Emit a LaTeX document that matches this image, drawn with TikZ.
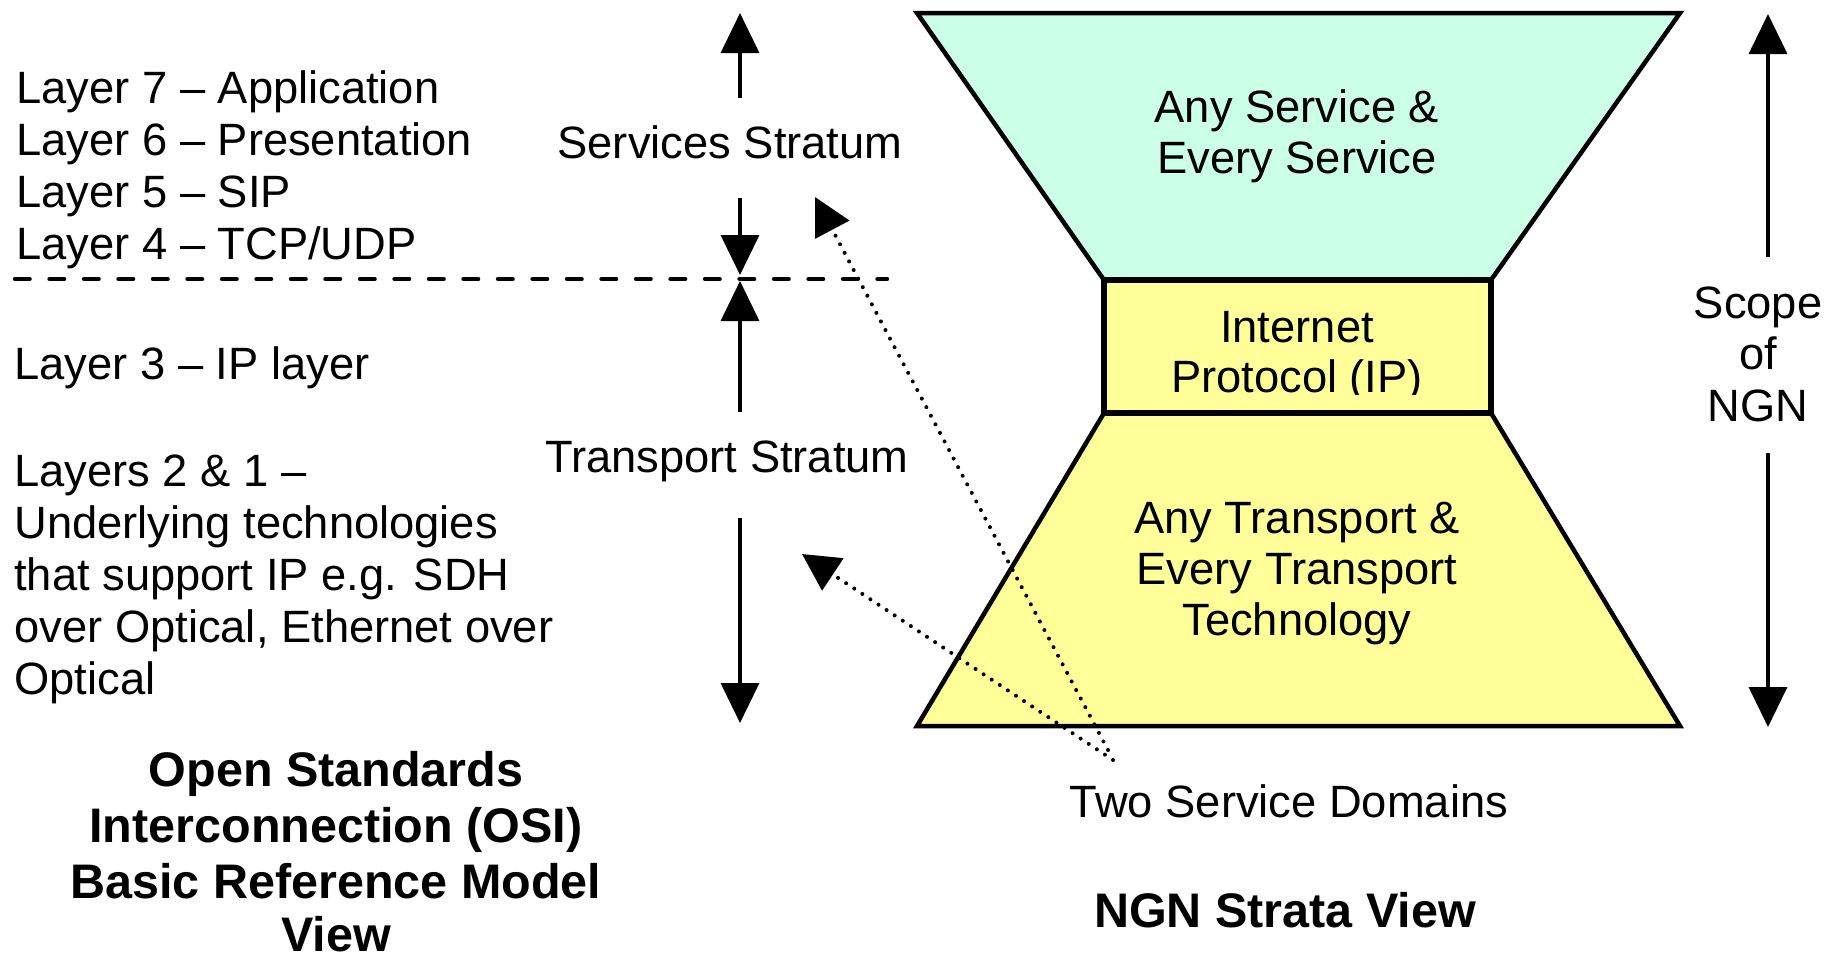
\documentclass[tikz,border=0pt]{standalone}
\usepackage{fontspec}
\setmainfont{Liberation Sans}
\usetikzlibrary{arrows.meta}
\definecolor{svcfill}{RGB}{204,255,232}
\definecolor{trnfill}{RGB}{255,255,153}
\tikzset{
  txt/.style={inner sep=0pt, font=\fontsize{22.65pt}{26pt}\selectfont},
  ltxt/.style={txt, anchor=base west},
  ctxt/.style={txt, anchor=base},
  btxt/.style={inner sep=0pt, anchor=base, font=\fontsize{24.25pt}{28pt}\selectfont\bfseries},
  span/.style={line width=1.75pt, -{Triangle[length=20pt,width=19pt]}},
  pointer/.style={line width=2pt, line cap=round, dash pattern=on 0pt off 4.85pt,
                  -{Triangle[length=18.5pt,width=19pt]}},
  divider/.style={line width=2.2pt, line cap=round, dash pattern=on 7.3pt off 9.95pt},
  stratum/.style={line width=2.25pt, line join=miter},
  ipbox/.style={line width=2.75pt},
}
\begin{document}
\begin{tikzpicture}[x=0.5pt,y=-0.5pt]
  % canvas
  \fill[white] (0,0) rectangle (1836,960);
  \useasboundingbox (0,0) rectangle (1836,960);

  % ---------- OSI layer list ----------
  \node[ltxt] (l7) at (16,103) {Layer 7 – Application};
  \node[ltxt] (l6) at (16,155) {Layer 6 – Presentation};
  \node[ltxt] (l5) at (16,207) {Layer 5 – SIP};
  \node[ltxt] (l4) at (16,259) {Layer 4 – TCP/UDP};
  \node[ltxt] (l3) at (14,379) {Layer 3 – IP layer};
  \node[ltxt] (l21a) at (14,486) {Layers 2 \& 1 –};
  \node[ltxt] (l21b) at (14,538) {Underlying technologies};
  \node[ltxt] (l21c) at (14,590) {that support IP e.g. SDH};
  \node[ltxt] (l21d) at (14,642) {over Optical, Ethernet over};
  \node[ltxt] (l21e) at (14,694) {Optical};

  \node[btxt] (osi1) at (336,786) {Open Standards};
  \node[btxt] (osi2) at (336,842) {Interconnection (OSI)};
  \node[btxt] (osi3) at (336,898) {Basic Reference Model};
  \node[btxt] (osi4) at (336,951) {View};

  % layer boundary
  \coordinate (divL) at (15,279);
  \coordinate (divR) at (887,279);
  \draw[divider] (divL) -- (divR);

  % ---------- strata arrows ----------
  \node[ctxt] (svc) at (730,158) {Services Stratum};
  \node[ctxt] (trn) at (727,472) {Transport Stratum};

  \coordinate (s1a) at (740,98);   \coordinate (s1b) at (740,13);
  \coordinate (s2a) at (740,198);  \coordinate (s2b) at (740,275);
  \coordinate (t1a) at (740,412);  \coordinate (t1b) at (740,281);
  \coordinate (t2a) at (740,518);  \coordinate (t2b) at (740,723);
  \draw[span] (s1a) -- (s1b);
  \draw[span] (s2a) -- (s2b);
  \draw[span] (t1a) -- (t1b);
  \draw[span] (t2a) -- (t2b);

  % ---------- NGN hourglass ----------
  \draw[stratum, fill=svcfill] (917,13) -- (1680,13) -- (1491,280) -- (1104,280) -- cycle;
  \draw[stratum, fill=trnfill] (1104,413) -- (1491,413) -- (1680,726) -- (917,726) -- cycle;
  \draw[ipbox, fill=trnfill] (1104,280) rectangle (1491,413);

  \node[ctxt] (as1) at (1297,122) {Any Service \&};
  \node[ctxt] (as2) at (1297,173) {Every Service};
  \begin{scope}
    \clip (1104,282) rectangle (1491,394);
    \node[ctxt] (ip1) at (1297,342) {Internet};
    \node[ctxt] (ip2) at (1297,392) {Protocol (IP)};
  \end{scope}
  \node[ctxt] (at1) at (1297,533) {Any Transport \&};
  \node[ctxt] (at2) at (1297,584) {Every Transport};
  \node[ctxt] (at3) at (1297,635) {Technology};

  % ---------- service domain pointers ----------
  \node[ctxt] (dom) at (1289,817) {Two Service Domains};
  \coordinate (d1s) at (1108,750);  \coordinate (d1e) at (815,197);
  \coordinate (d2s) at (1113,760);  \coordinate (d2e) at (802,554);
  \draw[pointer] (d1s) -- (d1e);
  \draw[pointer] (d2s) -- (d2e);

  \node[btxt] (ngn) at (1285,927) {NGN Strata View};

  % ---------- scope of NGN ----------
  \node[ctxt] (sc1) at (1758,318) {Scope};
  \node[ctxt] (sc2) at (1758,369) {of};
  \node[ctxt] (sc3) at (1758,421) {NGN};
  \coordinate (r1a) at (1768,257);  \coordinate (r1b) at (1768,14);
  \coordinate (r2a) at (1768,453);  \coordinate (r2b) at (1768,727);
  \draw[span] (r1a) -- (r1b);
  \draw[span] (r2a) -- (r2b);
\end{tikzpicture}
\end{document}
